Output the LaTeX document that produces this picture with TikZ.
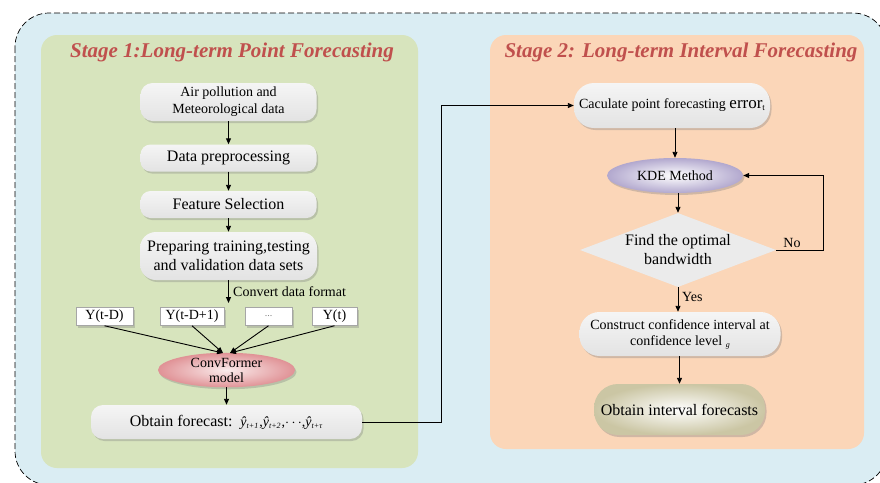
\documentclass[tikz,border=0pt]{standalone}
\usepackage{fontspec}
\setmainfont{Liberation Serif}
\usetikzlibrary{arrows.meta,shapes.geometric,shadows}
\definecolor{outerblue}{RGB}{218,237,243}
\definecolor{stagegreen}{RGB}{215,228,189}
\definecolor{stageorange}{RGB}{251,214,184}
\definecolor{titlered}{RGB}{192,80,77}
\definecolor{convred}{RGB}{224,146,150}
\definecolor{convin}{RGB}{250,236,236}
\definecolor{kdepurple}{RGB}{178,168,206}
\definecolor{olive}{RGB}{203,198,164}
\newcommand{\yhatsub}[1]{{\itshape ŷ}\raisebox{-2.5pt}{\fontsize{8}{8}\selectfont\itshape #1}\kern1pt}
\tikzset{
  arr/.style={draw=black, line width=0.9pt, -{Triangle[length=6pt,width=5pt]}},
  grayshade/.style={top color=white!96!black, bottom color=white!89!black},
  shad/.style={drop shadow={opacity=0.35, shadow xshift=1.5pt, shadow yshift=-2pt}},
  procbox/.style={rectangle, grayshade, shad, inner sep=2pt, align=center},
  smallbox/.style={rectangle, fill=white, draw=gray!70, line width=0.5pt, shad, inner sep=0pt, font=\fontsize{14}{16}\selectfont},
  titletext/.style={font=\fontsize{21}{24}\selectfont\bfseries\itshape, text=titlered},
  lbl/.style={font=\fontsize{14}{16}\selectfont, inner sep=1pt}
}
\begin{document}
\begin{tikzpicture}[x=1pt,y=-1pt]
\useasboundingbox (0,0) rectangle (880,482);
\begin{scope}
\clip (0,0) rectangle (880,482);
\draw[fill=outerblue, dashed, dash pattern=on 6pt off 3pt, line width=0.7pt, rounded corners=34pt] (15,13) rectangle (887,485);
\end{scope}
% stage panels
\fill[stagegreen, rounded corners=16pt] (41,35) rectangle (418,468);
\fill[stageorange, rounded corners=16pt] (490,35) rectangle (864,449);
\node[titletext] (t1) at (232,52) {Stage 1:Long-term Point Forecasting};
\node[titletext] (t2) at (681,52) {Stage 2: Long-term Interval Forecasting};

% stage 1
\node[procbox, minimum width=176pt, minimum height=38pt, rounded corners=12pt, font=\fontsize{14}{17}\selectfont] (air) at (228.5,102) {Air pollution and\\Meteorological data};
\node[procbox, minimum width=176pt, minimum height=27pt, rounded corners=10pt, font=\fontsize{16}{18}\selectfont] (pre) at (228.5,158) {Data preprocessing};
\node[procbox, minimum width=176pt, minimum height=27pt, rounded corners=10pt, font=\fontsize{16}{18}\selectfont] (feat) at (228.5,204.5) {Feature Selection};
\node[procbox, minimum width=177pt, minimum height=48pt, rounded corners=16pt, font=\fontsize{16}{19}\selectfont] (prep) at (228.5,256) {Preparing training,testing\\and validation data sets};
\draw[arr] (air.south) -- (pre.north);
\draw[arr] (pre.south) -- (feat.north);
\draw[arr] (feat.south) -- (prep.north);
\coordinate (cvt) at (228.5,303);
\draw[arr] (prep.south) -- (cvt);
\node[lbl, anchor=west] (cvtl) at (232,292) {Convert data format};

\node[smallbox, minimum width=57pt, minimum height=18pt] (y1) at (104.5,316.5) {Y(t-D)};
\node[smallbox, minimum width=64pt, minimum height=18pt] (y2) at (192,316.5) {Y(t-D+1)};
\node[smallbox, minimum width=47pt, minimum height=18pt, font=\fontsize{10}{12}\selectfont, text=gray] (y3) at (268.5,316.5) {...};
\node[smallbox, minimum width=45pt, minimum height=18pt] (y4) at (334.5,316.5) {Y(t)};

\node[ellipse, shading=radial, inner color=convin, outer color=convred, minimum width=137pt, minimum height=34pt, inner sep=0pt, align=center, font=\fontsize{14}{15}\selectfont, shad] (conv) at (226.5,370) {ConvFormer\\model};
\coordinate (ca) at (223,353);
\coordinate (cb) at (230,353);
\draw[arr] (y1.south) -- (ca);
\draw[arr] (y2.south) -- (ca);
\draw[arr] (y3.south) -- (cb);
\draw[arr] (y4.south) -- (cb);

\node[procbox, minimum width=271pt, minimum height=34pt, rounded corners=12pt, font=\fontsize{16}{18}\selectfont] (fc) at (226.5,422) {Obtain forecast:\ \ {\fontsize{14}{16}\selectfont\yhatsub{t+1},\yhatsub{t+2},$\cdots$,\yhatsub{t+τ}}};
\draw[arr] (conv.south) -- (fc.north);

% stage 2
\node[procbox, minimum width=196pt, minimum height=45pt, rounded corners=20pt, font=\fontsize{14}{16}\selectfont] (calc) at (672,105.5) {Caculate point forecasting {\fontsize{17}{18}\selectfont error}\raisebox{-2pt}{\fontsize{9}{9}\selectfont t}};
\coordinate (jx) at (441,0);
\draw[arr] (fc.east) -- (fc.east -| jx) |- (calc.west);

\node[ellipse, shading=radial, inner color=white, outer color=kdepurple, minimum width=136pt, minimum height=35pt, inner sep=0pt, font=\fontsize{14}{16}\selectfont, shad] (kde) at (675,175.5) {KDE Method};
\draw[arr] (calc.south -| kde) -- (kde.north);

\node[diamond, fill=white!92!black, minimum width=196pt, minimum height=74pt, inner sep=0pt, shape aspect=2.65] (dia) at (678,250) {};
\node[align=center, font=\fontsize{16}{19}\selectfont] (diat) at (678,250) {Find the optimal\\bandwidth};
\draw[arr] (kde.south -| dia) -- (dia.north);
\coordinate (nx) at (823,0);
\draw[arr] (dia.east) -- (dia.east -| nx) |- (kde.east);
\node[lbl, anchor=south] (nol) at (792,249) {No};

\node[procbox, minimum width=201pt, minimum height=44pt, rounded corners=20pt, font=\fontsize{14}{16}\selectfont] (cons) at (680,334) {Construct confidence interval at\\confidence level \raisebox{-2pt}{\fontsize{8}{8}\selectfont\itshape g}};
\draw[arr] (dia.south) -- (dia.south |- cons.north);
\node[lbl, anchor=west] (yesl) at (681,297) {Yes};

\node[rectangle, shading=radial, inner color=white, outer color=olive, minimum width=171pt, minimum height=51pt, rounded corners=24pt, font=\fontsize{16}{18}\selectfont, shad] (obt) at (679.5,409.5) {Obtain interval forecasts};
\draw[arr] (cons.south -| obt) -- (obt.north);
\end{tikzpicture}
\end{document}
